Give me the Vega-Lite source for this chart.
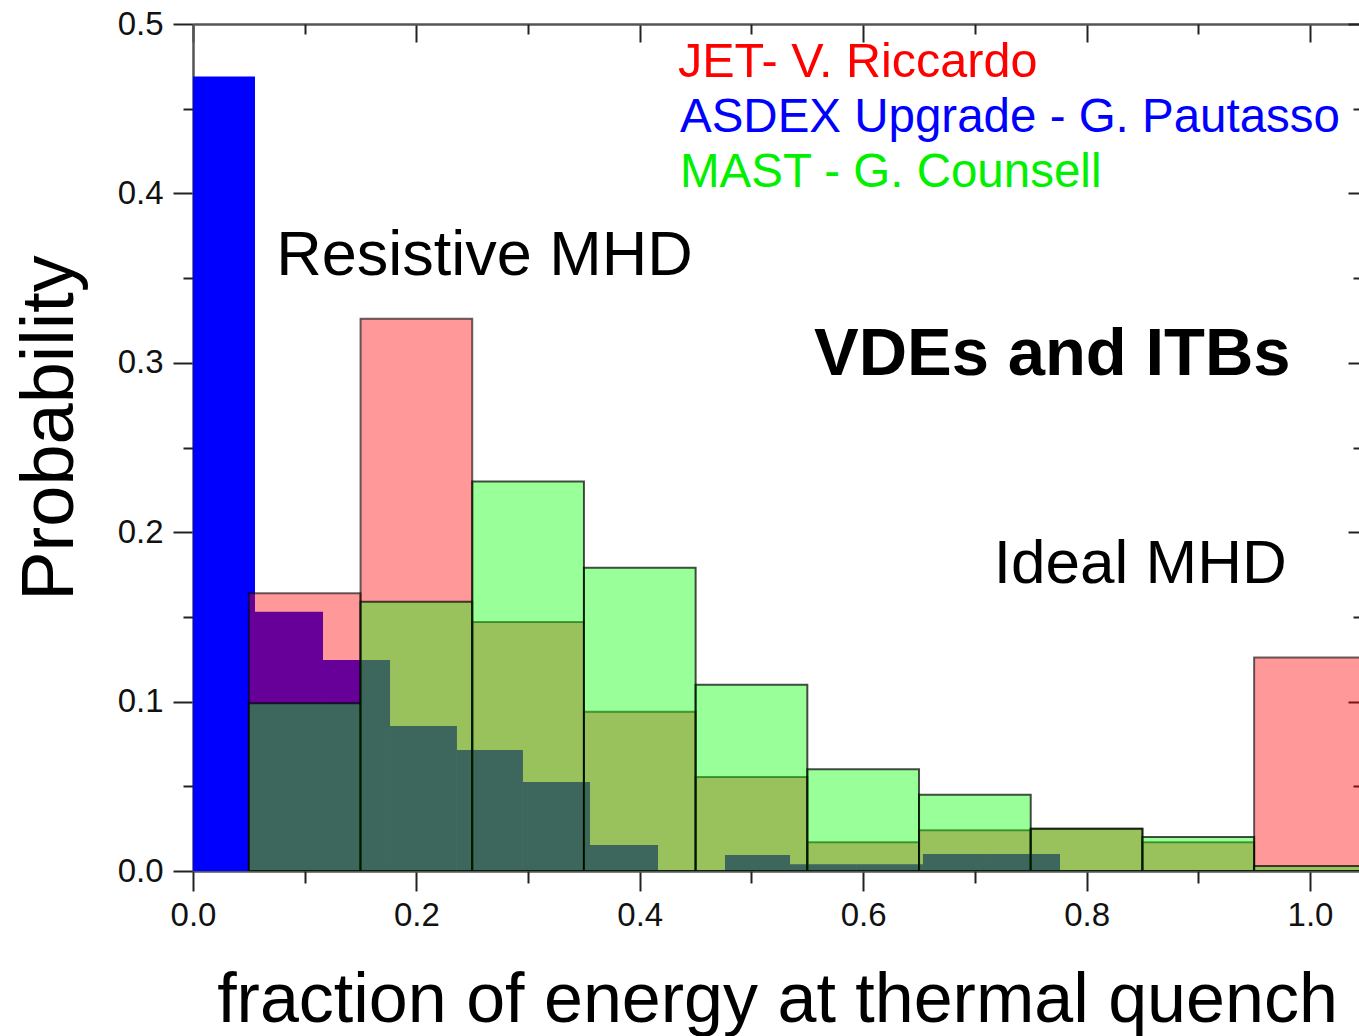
{
  "$schema": "https://vega.github.io/schema/vega-lite/v6.json",
  "autosize": {"type": "none"},
  "padding": {"left": 193, "top": 24, "right": 0, "bottom": 165},
  "width": 1166,
  "height": 847,
  "background": "white",
  "config": {
    "view": {"stroke": null},
    "font": "Liberation Sans",
    "axis": {
      "labelFont": "Liberation Sans",
      "titleFont": "Liberation Sans",
      "grid": false,
      "domainColor": "#555555",
      "domainWidth": 2.5,
      "tickColor": "#222222",
      "tickWidth": 2,
      "labelColor": "#111111",
      "titleColor": "#000000",
      "titleFontWeight": "normal",
      "labelFlush": false,
      "labelOverlap": false
    }
  },
  "datasets": {
    "asdex": [
      {"x0": 0.0, "x1": 0.0555, "p": 0.469},
      {"x0": 0.0555, "x1": 0.1164, "p": 0.153},
      {"x0": 0.1164, "x1": 0.1764, "p": 0.1245},
      {"x0": 0.1764, "x1": 0.2363, "p": 0.0856},
      {"x0": 0.2363, "x1": 0.2954, "p": 0.0714},
      {"x0": 0.2954, "x1": 0.3554, "p": 0.0525},
      {"x0": 0.3554, "x1": 0.4163, "p": 0.0153},
      {"x0": 0.4763, "x1": 0.5345, "p": 0.0094},
      {"x0": 0.5345, "x1": 0.5944, "p": 0.004},
      {"x0": 0.5944, "x1": 0.6535, "p": 0.004},
      {"x0": 0.6535, "x1": 0.7135, "p": 0.01},
      {"x0": 0.7135, "x1": 0.7762, "p": 0.01}
    ],
    "jet": [
      {"x0": 0.05, "x1": 0.15, "p": 0.164},
      {"x0": 0.15, "x1": 0.25, "p": 0.326},
      {"x0": 0.25, "x1": 0.35, "p": 0.147},
      {"x0": 0.35, "x1": 0.45, "p": 0.094},
      {"x0": 0.45, "x1": 0.55, "p": 0.0555},
      {"x0": 0.55, "x1": 0.65, "p": 0.017},
      {"x0": 0.65, "x1": 0.75, "p": 0.024},
      {"x0": 0.75, "x1": 0.85, "p": 0.025},
      {"x0": 0.85, "x1": 0.95, "p": 0.017},
      {"x0": 0.95, "x1": 1.05, "p": 0.126}
    ],
    "mast": [
      {"x0": 0.05, "x1": 0.15, "p": 0.099},
      {"x0": 0.15, "x1": 0.25, "p": 0.159},
      {"x0": 0.25, "x1": 0.35, "p": 0.23},
      {"x0": 0.35, "x1": 0.45, "p": 0.179},
      {"x0": 0.45, "x1": 0.55, "p": 0.11},
      {"x0": 0.55, "x1": 0.65, "p": 0.06},
      {"x0": 0.65, "x1": 0.75, "p": 0.045},
      {"x0": 0.75, "x1": 0.85, "p": 0.025},
      {"x0": 0.85, "x1": 0.95, "p": 0.02},
      {"x0": 0.95, "x1": 1.05, "p": 0.003}
    ],
    "one": [{}]
  },
  "resolve": {"axis": {"x": "independent", "y": "independent"}},
  "layer": [
    {
      "data": {"name": "asdex"},
      "mark": {"type": "rect", "fill": "#0000ff", "clip": true},
      "encoding": {
        "x": {
          "field": "x0", "type": "quantitative",
          "scale": {"domain": [0, 1.0439], "nice": false, "zero": false},
          "axis": {
            "orient": "bottom", "values": [0, 0.2, 0.4, 0.6, 0.8, 1.0], "format": ".1f",
            "tickSize": 20, "labelPadding": 8, "labelFontSize": 33,
            "title": "fraction of energy at thermal quench", "titleFontSize": 70,
            "titleX": 584, "titleY": 150, "titleBaseline": "alphabetic", "titleAlign": "center"
          }
        },
        "x2": {"field": "x1"},
        "y": {
          "field": "p", "type": "quantitative",
          "scale": {"domain": [0, 0.5], "nice": false},
          "axis": {
            "orient": "left", "values": [0, 0.1, 0.2, 0.3, 0.4, 0.5], "format": ".1f",
            "tickSize": 20, "labelPadding": 10, "labelFontSize": 33,
            "title": "Probability", "titleFontSize": 74, "titleAngle": 270,
            "titleX": -121, "titleY": 403.5, "titleBaseline": "alphabetic", "titleAlign": "center"
          }
        },
        "y2": {"datum": 0}
      }
    },
    {
      "data": {"name": "jet"},
      "mark": {"type": "rect", "fill": "#ff0000", "fillOpacity": 0.4, "stroke": "#000000", "strokeOpacity": 0.6, "strokeWidth": 2, "clip": true},
      "encoding": {
        "x": {
          "field": "x0", "type": "quantitative",
          "axis": {"orient": "bottom", "values": [0.1, 0.3, 0.5, 0.7, 0.9], "tickSize": 12, "labels": false, "domain": false, "title": null}
        },
        "x2": {"field": "x1"},
        "y": {
          "field": "p", "type": "quantitative",
          "axis": {"orient": "left", "values": [0.05, 0.15, 0.25, 0.35, 0.45], "tickSize": 10, "labels": false, "domain": false, "title": null}
        },
        "y2": {"datum": 0}
      }
    },
    {
      "data": {"name": "mast"},
      "mark": {"type": "rect", "fill": "#00ff00", "fillOpacity": 0.4, "stroke": "#000000", "strokeOpacity": 0.7, "strokeWidth": 2, "clip": true},
      "encoding": {
        "x": {
          "field": "x0", "type": "quantitative",
          "axis": {"orient": "top", "values": [0, 0.2, 0.4, 0.6, 0.8, 1.0], "tickSize": -18, "labels": false, "domain": true, "title": null}
        },
        "x2": {"field": "x1"},
        "y": {
          "field": "p", "type": "quantitative",
          "axis": {"orient": "right", "values": [0.1, 0.2, 0.3, 0.4, 0.5], "tickSize": -11, "labels": false, "domain": false, "title": null}
        },
        "y2": {"datum": 0}
      }
    },
    {
      "data": {"name": "one"},
      "mark": {"type": "text", "text": "JET- V. Riccardo", "font": "Liberation Sans", "fontSize": 48.5, "fill": "#ff0000", "align": "left", "baseline": "alphabetic"},
      "encoding": {
        "x": {"datum": 0.4342, "type": "quantitative",
          "axis": {"orient": "top", "values": [0.1, 0.3, 0.5, 0.7, 0.9], "tickSize": -10, "labels": false, "domain": false, "title": null}},
        "y": {"datum": 0.4687, "type": "quantitative",
          "axis": {"orient": "right", "values": [0.05, 0.15, 0.25, 0.35, 0.45], "tickSize": -6, "labels": false, "domain": false, "title": null}}
      }
    },
    {
      "data": {"name": "one"},
      "mark": {"type": "text", "text": "ASDEX Upgrade - G. Pautasso", "font": "Liberation Sans", "fontSize": 47.5, "fill": "#0000ff", "align": "left", "baseline": "alphabetic"},
      "encoding": {
        "x": {"datum": 0.4360, "type": "quantitative", "axis": null},
        "y": {"datum": 0.4362, "type": "quantitative", "axis": null}
      }
    },
    {
      "data": {"name": "one"},
      "mark": {"type": "text", "text": "MAST - G. Counsell", "font": "Liberation Sans", "fontSize": 47.5, "fill": "#00f000", "align": "left", "baseline": "alphabetic"},
      "encoding": {
        "x": {"datum": 0.4360, "type": "quantitative", "axis": null},
        "y": {"datum": 0.4038, "type": "quantitative", "axis": null}
      }
    },
    {
      "data": {"name": "one"},
      "mark": {"type": "text", "text": "Resistive MHD", "font": "Liberation Sans", "fontSize": 63, "fill": "#000000", "align": "left", "baseline": "alphabetic"},
      "encoding": {
        "x": {"datum": 0.0745, "type": "quantitative", "axis": null},
        "y": {"datum": 0.3518, "type": "quantitative", "axis": null}
      }
    },
    {
      "data": {"name": "one"},
      "mark": {"type": "text", "text": "VDEs and ITBs", "font": "Liberation Sans", "fontSize": 67, "fontWeight": "bold", "fill": "#000000", "align": "left", "baseline": "alphabetic"},
      "encoding": {
        "x": {"datum": 0.5560, "type": "quantitative", "axis": null},
        "y": {"datum": 0.2928, "type": "quantitative", "axis": null}
      }
    },
    {
      "data": {"name": "one"},
      "mark": {"type": "text", "text": "Ideal MHD", "font": "Liberation Sans", "fontSize": 62, "fill": "#000000", "align": "left", "baseline": "alphabetic"},
      "encoding": {
        "x": {"datum": 0.7170, "type": "quantitative", "axis": null},
        "y": {"datum": 0.17, "type": "quantitative", "axis": null}
      }
    }
  ]
}
